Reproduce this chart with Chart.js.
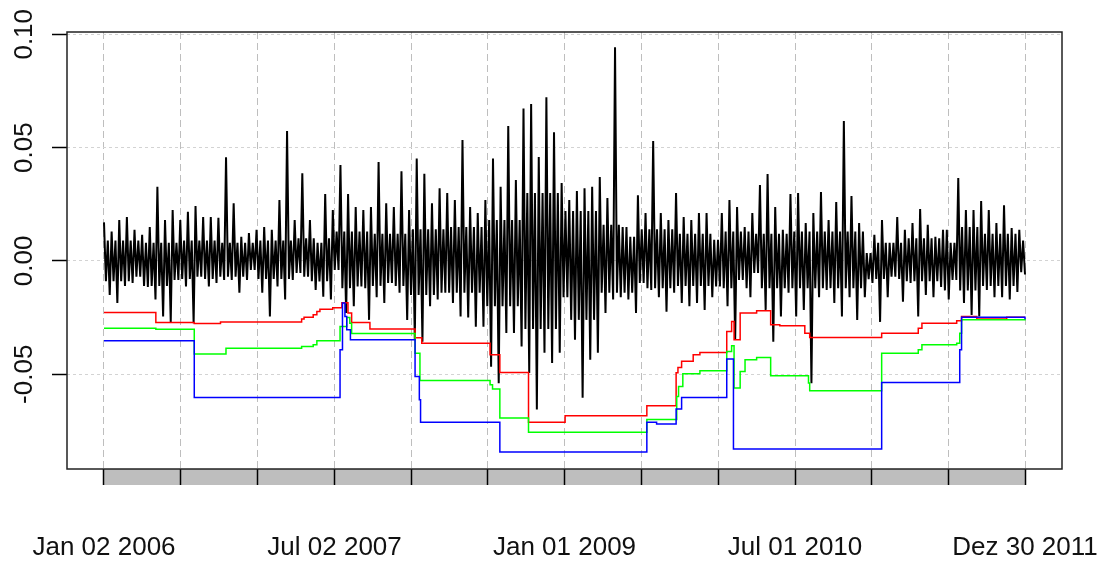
<!DOCTYPE html>
<html>
<head>
<meta charset="utf-8">
<script src="https://cdn.jsdelivr.net/npm/chart.js@4.4.1/dist/chart.umd.min.js"></script>
<style>
  html, body { margin: 0; padding: 0; background: #fff; }
  #wrap { width: 1105px; height: 574px; }
</style>
</head>
<body>
<div id="wrap"><canvas id="varChart" width="1105" height="574"></canvas></div>
<script>
// --- DATOS ---
// eje x = indice del dia de cotizacion (0 = Jan 02 2006, 1510 = Dez 30 2011)
const lastIdx = 1510;
const halfYearTicks = [0, 126, 252, 378, 504, 629, 755, 881, 1007, 1133, 1258, 1384, 1510];
const tickLabels = ['Jan 02 2006', '', '', 'Jul 02 2007', '', '', 'Jan 01 2009', '', '', 'Jul 01 2010', '', '', 'Dez 30 2011'];
const yTicks = [-0.05, 0, 0.05, 0.10];
const yTickLabels = ['-0.05', '0.00', '0.05', '0.10'];

// retornos diarios: maximo y minimo de cada tramo de ~12 dias
const retHigh = [
  0.017, 0.013, 0.018, 0.0194, 0.0137, 0.0115, 0.015, 0.0327, 0.018, 0.0225,
  0.018, 0.0217, 0.0242, 0.0194, 0.0194, 0.019, 0.0457, 0.0254, 0.0107, 0.0123,
  0.0137, 0.015, 0.0137, 0.0269, 0.0573, 0.018, 0.0387, 0.018, 0.008, 0.0295,
  0.0225, 0.0423, 0.0295, 0.0238, 0.0225, 0.0238, 0.0436, 0.0254, 0.0238, 0.0396,
  0.0225, 0.0452, 0.0385, 0.0254, 0.0321, 0.030, 0.0269, 0.0533, 0.0238, 0.0211,
  0.0269, 0.0452, 0.0327, 0.0595, 0.0357, 0.0672, 0.0692, 0.0458, 0.0722, 0.0568,
  0.0344, 0.0269, 0.0308, 0.0321, 0.0327, 0.037, 0.0278, 0.0943, 0.015, 0.0107,
  0.029, 0.0211, 0.0529, 0.0211, 0.018, 0.030, 0.0194, 0.018, 0.0211, 0.0211,
  0.0093, 0.0211, 0.0269, 0.0238, 0.015, 0.0211, 0.0335, 0.0383, 0.0238, 0.0137,
  0.0295, 0.030, 0.0167, 0.0211, 0.0304, 0.018, 0.026, 0.0617, 0.0286, 0.0167,
  0.0035, 0.0115, 0.018, 0.008, 0.0194, 0.0137, 0.0167, 0.0229, 0.0159, 0.0106,
  0.0137, 0.008, 0.0366, 0.0225, 0.0225, 0.0264, 0.0225, 0.0167, 0.0246, 0.0145,
  0.0137
];
const retLow = [
  -0.015, -0.0185, -0.011, -0.0097, -0.007, -0.0115, -0.017, -0.0245, -0.027, -0.0084,
  -0.0113, -0.0275, -0.007, -0.0113, -0.0097, -0.0084, -0.0084, -0.014, -0.0084, -0.004,
  -0.014, -0.0245, -0.0113, -0.017, -0.0084, -0.0053, -0.007, -0.0128, -0.0158, -0.017,
  -0.004, -0.023, -0.020, -0.0113, -0.026, -0.016, -0.0185, -0.0097, -0.014, -0.026,
  -0.0348, -0.0356, -0.020, -0.017, -0.014, -0.0185, -0.0245, -0.025, -0.029, -0.029,
  -0.0467, -0.054, -0.0318, -0.0318, -0.0378, -0.0494, -0.0656, -0.0405, -0.045, -0.0405,
  -0.016, -0.0348, -0.0604, -0.0436, -0.0405, -0.023, -0.017, -0.016, -0.017, -0.023,
  -0.0097, -0.0128, -0.016, -0.0224, -0.014, -0.0185, -0.020, -0.0185, -0.0216, -0.016,
  -0.0113, -0.020, -0.0348, -0.0084, -0.016, -0.0053, -0.0216, -0.0356, -0.0245, -0.014,
  -0.0245, -0.0216, -0.054, -0.016, -0.0128, -0.0185, -0.0245, -0.016, -0.026, -0.016,
  -0.0097, -0.0269, -0.016, -0.007, -0.018, -0.0097, -0.0245, -0.015, -0.016, -0.0115,
  -0.017, -0.0084, -0.0185, -0.0238, -0.0245, -0.0128, -0.016, -0.016, -0.017, -0.0137,
  -0.006
];
// banda densa (nucleo) de los retornos, por grupos de 5 tramos
const coreHigh = [0.009, 0.008, 0.009, 0.008, 0.009, 0.010, 0.013, 0.012, 0.014, 0.015, 0.018, 0.030, 0.022,
  0.016, 0.014, 0.012, 0.013, 0.012, 0.013, 0.013, 0.008, 0.010, 0.015, 0.012, 0.009];
const coreLow = [-0.009, -0.011, -0.008, -0.007, -0.008, -0.009, -0.012, -0.011, -0.015, -0.014, -0.020, -0.030, -0.026,
  -0.014, -0.012, -0.011, -0.012, -0.012, -0.012, -0.012, -0.008, -0.009, -0.013, -0.011, -0.005];

// VaR (lineas escalonadas): indice donde cambia y nuevo valor
const redIdx = [0, 85, 148, 191, 324, 328, 343, 349, 354, 375, 390, 400, 406, 436, 510, 521, 633, 649, 696, 756,
  890, 938, 941, 947, 966, 977, 1021, 1029, 1033, 1043, 1070, 1093, 1108, 1149, 1157, 1275, 1335, 1341, 1398, 1406,
  1431, 1480, 1510];
const redVal = [-0.0228, -0.0272, -0.0276, -0.0270, -0.0256, -0.0248, -0.0238, -0.0223, -0.0213, -0.0207, -0.0184, -0.0230, -0.0272, -0.0300, -0.0339, -0.0363, -0.0414, -0.0492, -0.0712, -0.0683,
  -0.0639, -0.0493, -0.0470, -0.0443, -0.0414, -0.0404, -0.0311, -0.0267, -0.0348, -0.0230, -0.0220, -0.0282, -0.0286, -0.0319, -0.0338, -0.0319, -0.0297, -0.0275, -0.0264, -0.0245,
  -0.0256, -0.0248, -0.0248];

const greenIdx = [0, 85, 148, 200, 324, 343, 349, 387, 398, 403, 406, 510, 518, 633, 637, 649, 696, 890, 939, 942,
  949, 977, 1021, 1029, 1033, 1043, 1051, 1070, 1093, 1155, 1157, 1275, 1335, 1341, 1398, 1403, 1406, 1510];
const greenVal = [-0.0297, -0.0301, -0.0411, -0.0385, -0.0377, -0.0370, -0.0352, -0.0289, -0.0250, -0.0275, -0.0320, -0.0407, -0.0527, -0.0546, -0.0565, -0.0693, -0.0756, -0.0700, -0.0598, -0.0554,
  -0.0498, -0.0485, -0.0400, -0.0374, -0.0561, -0.0488, -0.0436, -0.0426, -0.0507, -0.0539, -0.0573, -0.0407, -0.0392, -0.0370, -0.0363, -0.0319, -0.0260, -0.0263];

const blueIdx = [0, 148, 387, 391, 395, 398, 404, 510, 517, 519, 649, 890, 906, 938, 947, 1021, 1032, 1275, 1403, 1406, 1510];
const blueVal = [-0.0352, -0.0602, -0.0392, -0.0186, -0.0245, -0.0304, -0.0348, -0.0510, -0.0612, -0.0712, -0.0843, -0.0712, -0.0720, -0.0653, -0.0602, -0.0433, -0.0830, -0.0536, -0.0392, -0.0248, -0.0257];

// --- SERIES ---
// cada tramo: maximo, nucleo bajo, nucleo alto, minimo
const stepX = lastIdx / (retHigh.length * 4 - 1);
const retPoints = [];
retHigh.forEach((h, i) => {
  const g = Math.floor(i / 5);
  const seq = [h, Math.max(coreLow[g], retLow[i]), Math.min(coreHigh[g], h), retLow[i]];
  seq.forEach((v, k) => retPoints.push({ x: (4 * i + k) * stepX, y: v }));
});
const toPoints = (idx, val) => idx.map((x, i) => ({ x, y: val[i] }));

function stepSet(label, idx, val, color, order) {
  return {
    label, data: toPoints(idx, val), borderColor: color, borderWidth: 1.5,
    stepped: 'before', pointRadius: 0, fill: false, order
  };
}

// --- PLUGIN: caja, banda gris y etiquetas del eje y ---
const frame = {
  id: 'frame',
  beforeDraw(chart) {
    const { ctx, scales: { x }, chartArea } = chart;
    ctx.save();
    ctx.fillStyle = '#BEBEBE';
    const x0 = x.getPixelForValue(0), x1 = x.getPixelForValue(lastIdx);
    ctx.fillRect(x0, chartArea.bottom, x1 - x0, 16);
    ctx.restore();
  },
  afterDraw(chart) {
    const { ctx, scales: { y }, chartArea: a } = chart;
    ctx.save();
    ctx.strokeStyle = '#222';
    ctx.lineWidth = 1.5;
    ctx.strokeRect(a.left, a.top, a.right - a.left, a.bottom - a.top);
    ctx.fillStyle = '#111';
    ctx.font = '26px "Liberation Sans", Arial, sans-serif';
    ctx.textAlign = 'center';
    ctx.textBaseline = 'alphabetic';
    yTicks.forEach((v, i) => {
      ctx.save();
      ctx.translate(32, y.getPixelForValue(v));
      ctx.rotate(-Math.PI / 2);
      ctx.fillText(yTickLabels[i], 0, 0);
      ctx.restore();
    });
    ctx.restore();
  }
};

new Chart(document.getElementById('varChart'), {
  type: 'line',
  data: {
    datasets: [
      { label: 'retornos', data: retPoints, borderColor: '#000', borderWidth: 2,
        borderJoinStyle: 'bevel', pointRadius: 0, tension: 0, fill: false, order: 4 },
      stepSet('VaR rojo', redIdx, redVal, '#FF0000', 3),
      stepSet('VaR verde', greenIdx, greenVal, '#00FF00', 2),
      stepSet('VaR azul', blueIdx, blueVal, '#0000FF', 1)
    ]
  },
  options: {
    responsive: false,
    animation: false,
    events: [],
    layout: { padding: { left: 0, right: 43, top: 32, bottom: 0 } },
    plugins: { legend: { display: false }, tooltip: { enabled: false } },
    scales: {
      x: {
        type: 'linear', min: -60.66, max: 1570.66, z: 1,
        afterBuildTicks: s => { s.ticks = halfYearTicks.map(v => ({ value: v })); },
        afterFit: s => { s.height = 105; s.paddingLeft = 0; s.paddingRight = 0; },
        border: { display: false, dash: [7, 4] },
        grid: { color: '#BEBEBE', lineWidth: 1, borderDash: [7, 4], tickLength: 16,
                tickColor: '#000', tickWidth: 1.5, tickBorderDash: [] },
        ticks: {
          autoSkip: false, maxRotation: 0, minRotation: 0, padding: 47, color: '#111',
          font: { family: '"Liberation Sans", Arial, sans-serif', size: 26 },
          callback: (v, i) => tickLabels[i]
        }
      },
      y: {
        min: -0.0918, max: 0.1010, z: 1,
        afterBuildTicks: s => { s.ticks = yTicks.map(v => ({ value: v })); },
        afterFit: s => { s.width = 67; s.paddingTop = 0; s.paddingBottom = 0; },
        border: { display: false, dash: [3, 3] },
        grid: { color: '#D3D3D3', lineWidth: 1, borderDash: [3, 3], tickLength: 15,
                tickColor: '#000', tickWidth: 1.5, tickBorderDash: [] },
        ticks: { display: false }
      }
    }
  },
  plugins: [frame]
});
</script>
</body>
</html>
